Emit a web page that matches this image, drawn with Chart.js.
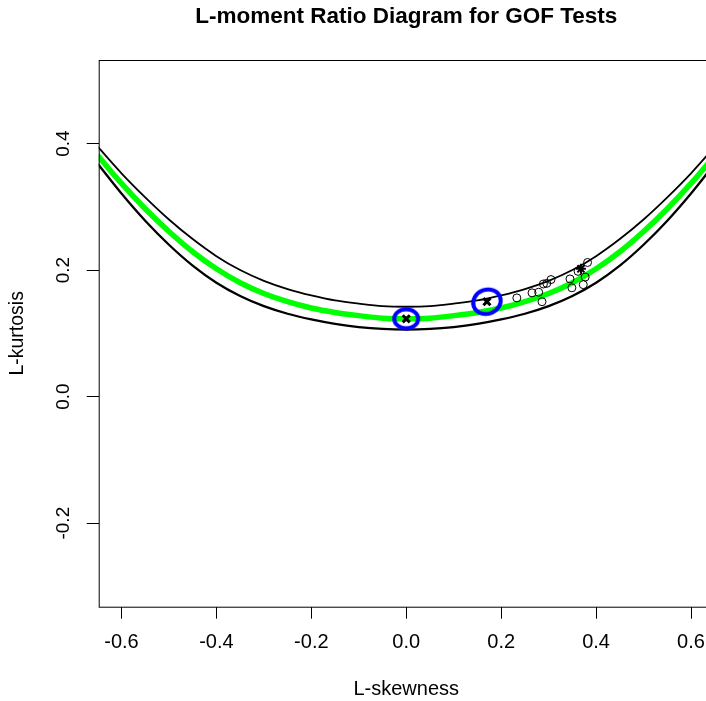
<!DOCTYPE html>
<html>
<head>
<meta charset="utf-8">
<script src="https://cdn.jsdelivr.net/npm/chart.js@4.4.0/dist/chart.umd.min.js"></script>
<style>
  html, body { margin: 0; padding: 0; background: #fff; overflow: hidden; }
  #wrap { width: 760px; height: 701px; }
</style>
</head>
<body>
<div id="wrap"><canvas id="lmr" width="760" height="701"></canvas></div>
<script>
/* L-moment ratio diagram — R-style plot redrawn with Chart.js */

// ── data ────────────────────────────────────
const SKEW_GRID  = [-0.65, -0.60, -0.55, -0.50, -0.45, -0.40, -0.35, -0.30, -0.25, -0.20, -0.15, -0.10, -0.05,
                     0.00,  0.05,  0.10,  0.15,  0.20,  0.25,  0.30,  0.35,  0.40,  0.45,  0.50,  0.55,  0.60,  0.65];
const GREEN_KURT = [0.381, 0.337, 0.297, 0.261, 0.229, 0.202, 0.180, 0.163, 0.150, 0.140, 0.133, 0.128, 0.124,
                    0.123, 0.124, 0.128, 0.133, 0.140, 0.150, 0.163, 0.180, 0.202, 0.229, 0.261, 0.297, 0.337, 0.381];
const UPPER_KURT = [0.395, 0.353, 0.315, 0.280, 0.249, 0.222, 0.200, 0.183, 0.170, 0.160, 0.152, 0.147, 0.143,
                    0.142, 0.143, 0.147, 0.152, 0.160, 0.170, 0.183, 0.200, 0.222, 0.249, 0.280, 0.315, 0.353, 0.395];
const LOWER_KURT = [0.368, 0.321, 0.278, 0.240, 0.207, 0.180, 0.159, 0.143, 0.131, 0.122, 0.115, 0.110, 0.107,
                    0.106, 0.107, 0.110, 0.115, 0.122, 0.131, 0.143, 0.159, 0.180, 0.207, 0.240, 0.278, 0.321, 0.368];

// sample L-moment ratios (open circles)
const SAMPLE_SKEW = [0.233, 0.265, 0.279, 0.286, 0.289, 0.296, 0.305, 0.345, 0.349, 0.373, 0.377, 0.382, 0.362];
const SAMPLE_KURT = [0.156, 0.164, 0.165, 0.150, 0.178, 0.179, 0.185, 0.186, 0.172, 0.177, 0.189, 0.212, 0.198];

// reference distributions (normal, gumbel) and the sample mean
const REF_SKEW  = [0.000, 0.170];
const REF_KURT  = [0.123, 0.150];
const MEAN_SKEW = [0.368];
const MEAN_KURT = [0.202];

const X_TICKS = [-0.6, -0.4, -0.2, 0.0, 0.2, 0.4, 0.6];
const Y_TICKS = [-0.2, 0.0, 0.2, 0.4];

const pts = (xs, ys) => xs.map((x, i) => ({ x, y: ys[i] }));

// ellipse marker drawn into a small canvas, used as pointStyle
function ellipseMarker(rx, ry, rot, lw, color) {
  const c = document.createElement('canvas');
  const s = Math.ceil(2 * Math.max(rx, ry) + lw + 4);
  c.width = s; c.height = s;
  const g = c.getContext('2d');
  g.strokeStyle = color;
  g.lineWidth = lw;
  g.beginPath();
  g.ellipse(s / 2, s / 2, rx, ry, rot, 0, Math.PI * 2);
  g.stroke();
  return c;
}

const FONT = 'Liberation Sans, Arial, sans-serif';

// frame, title and rotated y tick labels (R style)
const rDecor = {
  id: 'rDecor',
  afterDraw(chart) {
    const { ctx, chartArea: a, scales } = chart;
    ctx.save();
    ctx.strokeStyle = '#000';
    ctx.lineWidth = 1;
    ctx.strokeRect(a.left + 0.5, a.top + 0.5, a.right - a.left, a.bottom - a.top);

    ctx.fillStyle = '#000';
    ctx.textAlign = 'center';
    ctx.textBaseline = 'middle';
    ctx.font = 'bold 22.5px ' + FONT;
    ctx.fillText('L-moment Ratio Diagram for GOF Tests', (a.left + a.right) / 2, 17);

    ctx.font = '19px ' + FONT;
    Y_TICKS.forEach(v => {
      const y = scales.y.getPixelForValue(v);
      ctx.save();
      ctx.translate(64, y);
      ctx.rotate(-Math.PI / 2);
      ctx.fillText(v.toFixed(1), 0, 0);
      ctx.restore();
    });
    ctx.restore();
  }
};

new Chart(document.getElementById('lmr'), {
  type: 'scatter',
  data: {
    datasets: [
      {
        label: 'mean',
        data: pts(MEAN_SKEW, MEAN_KURT),
        pointStyle: 'star',
        pointRadius: 5,
        borderColor: '#000',
        borderWidth: 2
      },
      {
        label: 'ref marks',
        data: pts(REF_SKEW, REF_KURT),
        pointStyle: 'crossRot',
        pointRadius: 5,
        borderColor: '#000',
        borderWidth: 3
      },
      {
        label: 'ref circles',
        data: pts(REF_SKEW, REF_KURT),
        pointStyle: [ellipseMarker(12, 9.5, 0, 4, '#0000ff'), ellipseMarker(14, 12, -0.35, 4, '#0000ff')],
        pointRadius: 14
      },
      {
        label: 'samples',
        data: pts(SAMPLE_SKEW, SAMPLE_KURT),
        pointStyle: 'circle',
        pointRadius: 4,
        borderColor: '#000',
        backgroundColor: 'rgba(0,0,0,0)',
        borderWidth: 1
      },
      {
        label: 'upper',
        data: pts(SKEW_GRID, UPPER_KURT),
        showLine: true,
        pointRadius: 0,
        borderColor: '#000',
        borderWidth: 1.8,
        cubicInterpolationMode: 'monotone'
      },
      {
        label: 'lower',
        data: pts(SKEW_GRID, LOWER_KURT),
        showLine: true,
        pointRadius: 0,
        borderColor: '#000',
        borderWidth: 2.3,
        cubicInterpolationMode: 'monotone'
      },
      {
        label: 'fit',
        data: pts(SKEW_GRID, GREEN_KURT),
        showLine: true,
        pointRadius: 0,
        borderColor: '#00ff00',
        borderWidth: 5.5,
        cubicInterpolationMode: 'monotone'
      }
    ]
  },
  options: {
    responsive: false,
    animation: false,
    layout: { padding: { top: 60, right: 46.2, bottom: 0, left: 0 } },
    plugins: { legend: { display: false }, tooltip: { enabled: false } },
    scales: {
      x: {
        type: 'linear',
        min: -0.648,
        max: 0.648,
        afterBuildTicks: s => { s.ticks = X_TICKS.map(v => ({ value: v })); },
        afterFit: s => { s.height = 94.3; },
        border: { display: false },
        grid: { drawOnChartArea: false, drawTicks: true, tickLength: 12, tickColor: '#000', tickWidth: 1 },
        ticks: {
          color: '#000',
          font: { family: FONT, size: 20 },
          padding: 12,
          maxRotation: 0,
          callback: v => v.toFixed(1)
        },
        title: {
          display: true,
          text: 'L-skewness',
          color: '#000',
          font: { family: FONT, size: 20 },
          padding: { top: 0, bottom: 0 }
        }
      },
      y: {
        type: 'linear',
        min: -0.332,
        max: 0.532,
        afterBuildTicks: s => { s.ticks = Y_TICKS.map(v => ({ value: v })); },
        afterFit: s => { s.width = 98.7; },
        border: { display: false },
        grid: { drawOnChartArea: false, drawTicks: true, tickLength: 12, tickColor: '#000', tickWidth: 1 },
        ticks: { display: false },
        title: {
          display: true,
          text: 'L-kurtosis',
          color: '#000',
          font: { family: FONT, size: 19.5 },
          padding: { top: 6, bottom: 0 }
        }
      }
    }
  },
  plugins: [rDecor]
});
</script>
</body>
</html>
